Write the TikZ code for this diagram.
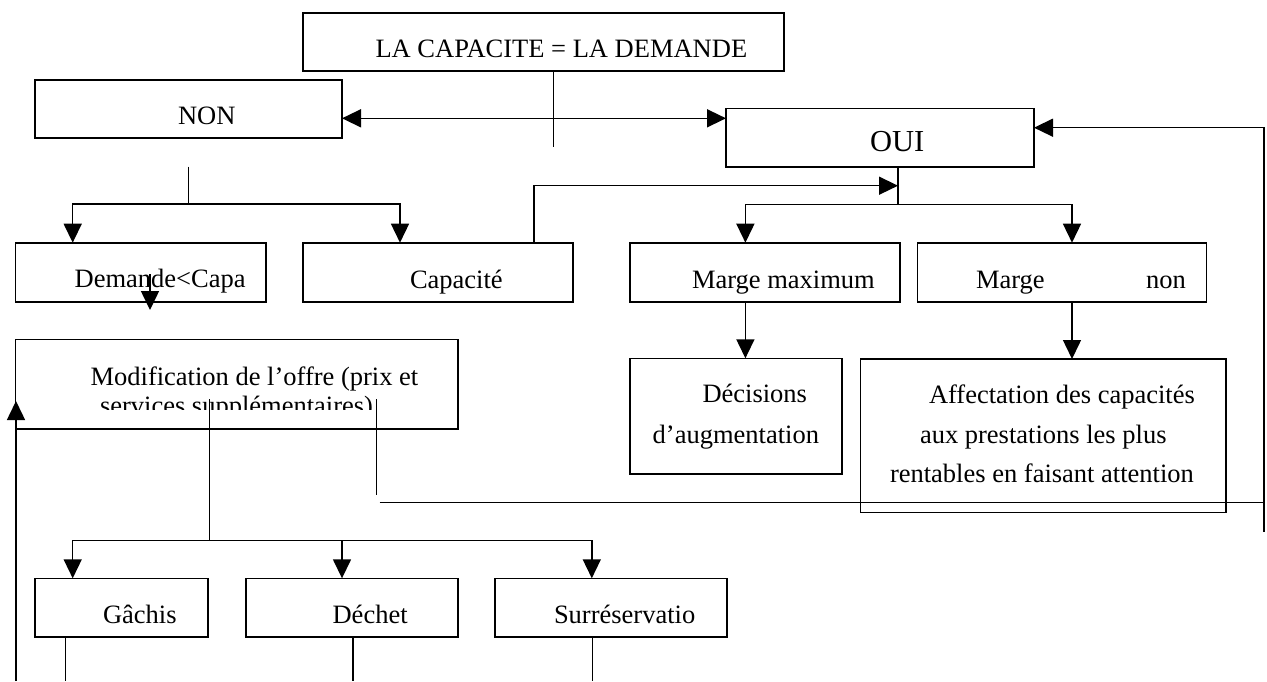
\documentclass[tikz,border=0pt]{standalone}
\usepackage{fontspec}
\setmainfont{Liberation Serif}
\usetikzlibrary{arrows.meta,fit}
\begin{document}
\begin{tikzpicture}[x=1pt,y=-1pt,
  bx/.style={draw,line width=1.6pt,inner sep=0pt,outer sep=0pt},
  txt/.style={inner sep=0pt,outer sep=0pt,anchor=base west,font=\fontsize{26.5}{30}\selectfont},
  big/.style={txt,font=\fontsize{30.5}{34}\selectfont},
  ln/.style={line width=1.5pt},
  arr/.style={ln,-{Triangle[length=19pt,width=18pt]}},
  darr/.style={ln,{Triangle[length=19pt,width=18pt]}-{Triangle[length=19pt,width=18pt]}}]
\useasboundingbox (0,0) rectangle (1267,681);
% boxes
\node[bx,fit={(303,12.7) (784,70.7)}] (top) {};
\node[bx,fit={(34.7,80) (342,137.7)}] (non) {};
\node[bx,fit={(726,108.3) (1034,166.7)}] (oui) {};
\node[bx,fit={(15.5,242.7) (266,301.7)}] (dem) {};
\node[bx,fit={(303,242.7) (573,301.7)}] (cap) {};
\node[bx,fit={(630,242.7) (899.7,301.7)}] (mmax) {};
\node[bx,fit={(917.6,242.7) (1206.6,301.7)}] (mnon) {};
\node[bx,fit={(630,358.3) (842,474)}] (dec) {};
\node[bx,fit={(860.5,359) (1225.8,512.3)}] (aff) {};
\node[bx,fit={(15.5,339.3) (458,429)}] (mod) {};
\node[bx,fit={(34.7,578.3) (208,636.7)}] (gac) {};
\node[bx,fit={(246,578.3) (458,636.7)}] (dch) {};
\node[bx,fit={(495,578.3) (727,636.7)}] (sur) {};
% texts
\node[txt] (topt) at (375.5,57) {LA CAPACITE = LA DEMANDE};
\node[txt] (nont) at (178,124.3) {NON};
\node[big] (ouit) at (870,151.7) {OUI};
\node[txt] (demt) at (74.7,287.5) {Demande<Capa};
\node[txt] (capt) at (410,288) {Capacité};
\node[txt] (mmaxt) at (692,288) {Marge maximum};
\node[txt] (mnont1) at (976,288) {Marge};
\node[txt] (mnont2) at (1146,288) {non};
\node[txt] (dect1) at (702.5,402.7) {Décisions};
\node[txt] (dect2) at (652.7,443.3) {d’augmentation};
\node[txt] (afft1) at (929,403) {Affectation des capacités};
\node[txt] (afft2) at (920,443) {aux prestations les plus};
\node[txt] (afft3) at (890,482.7) {rentables en faisant attention};
\node[txt] (modt1) at (90.6,385) {Modification de l’offre (prix et};
\begin{scope}
\clip (15.5,339.3) rectangle (458,409);
\node[txt] (modt2) at (100,414) {services supplémentaires)};
\end{scope}
\node[txt] (gact) at (103,623) {Gâchis};
\node[txt] (dcht) at (332.6,623) {Déchet};
\node[txt] (surt) at (554,623) {Surréservatio};
% coordinates
\coordinate (t1) at (553.5,70.7);
\coordinate (t2) at (553.5,146.7);
\coordinate (hy) at (0,118.3);
\coordinate (rt) at (1264,127.7);
\coordinate (rb) at (1264,531.7);
\coordinate (n1) at (188.6,166.7);
\coordinate (n2) at (188.6,204);
\coordinate (na) at (72.7,242.7);
\coordinate (nb) at (400,242.7);
\coordinate (c1) at (534,242.7);
\coordinate (c2) at (534,185.7);
\coordinate (o1) at (898,166.7);
\coordinate (o2) at (898,204.7);
\coordinate (oa) at (745.4,242.7);
\coordinate (ob) at (1072,242.7);
\coordinate (d1) at (150,274);
\coordinate (d2) at (150,310);
\coordinate (m1) at (209.4,399.3);
\coordinate (m2) at (209.4,540.7);
\coordinate (ma) at (72.7,578.3);
\coordinate (mb) at (342,578.3);
\coordinate (mc) at (591.8,578.3);
\coordinate (v1) at (376.3,399.3);
\coordinate (v2) at (376.3,495);
\coordinate (h1) at (379.6,502.7);
\coordinate (h2) at (1264,502.7);
\coordinate (l1) at (16,681);
\coordinate (l2) at (16,401);
\coordinate (g1) at (65.3,636.7);
\coordinate (g2) at (65.3,681);
\coordinate (e1) at (353,636.7);
\coordinate (e2) at (353,681);
\coordinate (s1) at (592.7,636.7);
\coordinate (s2) at (592.7,681);
% connectors
\draw[ln] (t1) -- (t2);
\draw[darr] (non.east |- hy) -- (oui.west |- hy);
\draw[arr] (rb) -- (rt) -- (oui.east |- rt);
\draw[ln] (n1) -- (n2);
\draw[arr] (n2) -| (na);
\draw[arr] (n2) -| (nb);
\draw[arr] (c1) -- (c2) -- (o2 |- c2);
\draw[ln] (o1) -- (o2);
\draw[arr] (o2) -| (oa);
\draw[arr] (o2) -| (ob);
\draw[arr] (oa |- mmax.south) -- (oa |- dec.north);
\draw[arr] (ob |- mnon.south) -- (ob |- aff.north);
\draw[arr] (d1) -- (d2);
\draw[ln] (m1) -- (m2);
\draw[arr] (m2) -| (ma);
\draw[arr] (m2) -| (mb);
\draw[arr] (m2) -| (mc);
\draw[ln] (v1) -- (v2);
\draw[ln] (h1) -- (h2);
\draw[arr] (l1) -- (l2);
\draw[ln] (g1) -- (g2);
\draw[ln] (e1) -- (e2);
\draw[ln] (s1) -- (s2);
\end{tikzpicture}
\end{document}
